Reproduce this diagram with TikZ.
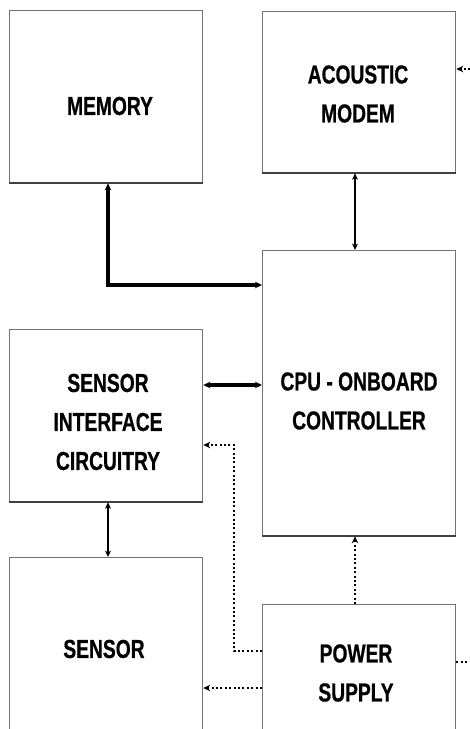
\documentclass[tikz,border=0pt]{standalone}
\usepackage{fontspec}
\setmainfont[FakeStretch=0.74,FakeBold=0.6]{Liberation Sans}
\usetikzlibrary{arrows.meta}
\begin{document}
\begin{tikzpicture}[x=1pt,y=-1pt,
  blk/.style={draw=black!55, line width=1.3pt, fill=white, anchor=north west, inner sep=0pt},
  lbl/.style={font=\fontsize{26}{39}\selectfont\bfseries, align=center, inner sep=0pt},
  bus/.style={line width=3.2pt, {Stealth[length=7pt,width=6.5pt]}-{Stealth[length=7pt,width=6.5pt]}},
  sig/.style={line width=2.2pt, {Stealth[length=6.5pt,width=6pt]}-{Stealth[length=6.5pt,width=6pt]}},
  pwr/.style={line width=2.4pt, dash pattern=on 2pt off 2.4pt, -{Stealth[length=7pt,width=6.5pt]}},
  pwrline/.style={line width=2.4pt, dash pattern=on 2pt off 2.4pt}]
\clip (0,0) rectangle (470,729);
\fill[white] (0,0) rectangle (470,729);
\node[blk, minimum width=193pt, minimum height=172pt] (mem) at (9,10) {};
\node[blk, minimum width=193pt, minimum height=161pt] (modem) at (262,11) {};
\node[blk, minimum width=193pt, minimum height=285pt] (cpu) at (262,250) {};
\node[blk, minimum width=193pt, minimum height=172pt] (sif) at (9,329) {};
\node[blk, minimum width=193pt, minimum height=182pt] (sens) at (9,557) {};
\node[blk, minimum width=193pt, minimum height=136pt] (psu) at (262,604) {};
% darker bottom edges
\foreach \n in {mem,modem,cpu,sif} \draw[black!75, line width=2.2pt] (\n.south west) -- (\n.south east);
% labels
\node[lbl] (memt) at (110,106) {MEMORY};
\node[lbl] (modemt) at (358,94) {ACOUSTIC\\MODEM};
\node[lbl] (cput) at (359,401) {CPU - ONBOARD\\CONTROLLER};
\node[lbl] (sift) at (108,422) {SENSOR\\INTERFACE\\CIRCUITRY};
\node[lbl] (senst) at (104,649) {SENSOR};
\node[lbl] (psut) at (356,673) {POWER\\SUPPLY};
% buses
\coordinate (memcorner) at (108,285);
\draw[bus] (mem.south -| memcorner) -- (memcorner) -- (cpu.west |- memcorner);
\draw[sig] (modem.south -| 355,0) -- (cpu.north -| 355,0);
\draw[bus] (sif.east |- 0,385) -- (cpu.west |- 0,385);
\draw[sig] (sif.south -| 108,0) -- (sens.north -| 108,0);
% power lines
\draw[pwr] (psu.north -| 355,0) -- (cpu.south -| 355,0);
\coordinate (pa) at (234,651);
\coordinate (pb) at (234,445);
\draw[pwr] (psu.west |- pa) -- (pa) -- (pb) -- (sif.east |- pb);
\draw[pwr] (psu.west |- 0,688) -- (sens.east |- 0,688);
\coordinate (modemin) at (470,69);
\draw[pwr] (modemin) -- (modem.east |- modemin);
\coordinate (psuout) at (470,662);
\draw[pwrline] (psu.east |- psuout) -- (psuout);
\end{tikzpicture}
\end{document}
